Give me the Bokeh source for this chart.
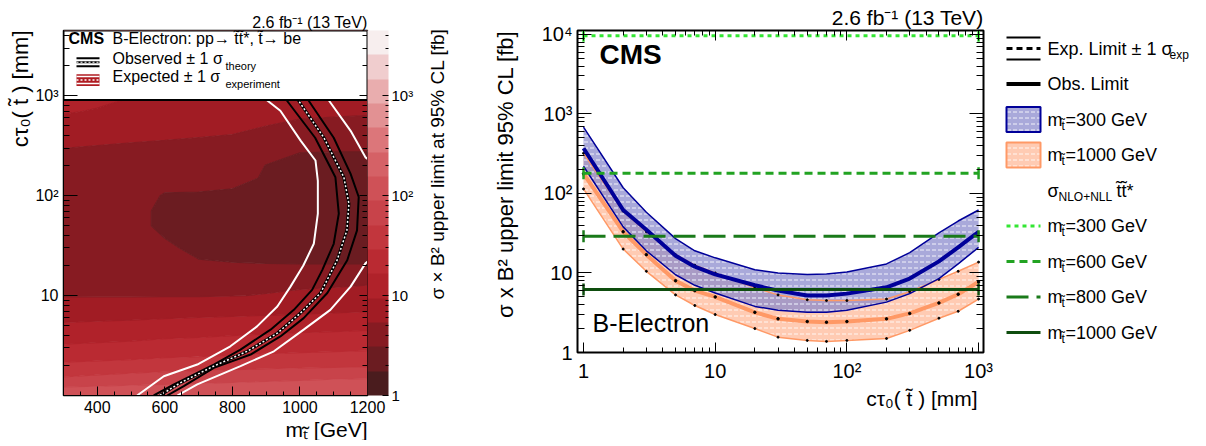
import math
import numpy as np
from bokeh.plotting import figure
from bokeh.layouts import row
from bokeh.models import (Range1d, FixedTicker, CustomJSTickFormatter, LogAxis, Label, Title,
                          ColorBar, LogColorMapper)
from bokeh.core.properties import value
from bokeh.embed import file_html
from bokeh.resources import INLINE

FONT = "Liberation Sans"

# ---------------- left panel: 95% CL limit map (fb) ----------------
mass_grid = [300, 400, 500, 600, 700, 800, 900, 1000, 1100, 1200]
ctau_grid = [1, 1.2, 1.5, 2, 3, 5, 7, 10, 15, 20, 30, 50, 70, 100, 150, 200, 300, 500, 700, 1000, 2000, 5000]
limit_m300 = [130, 91, 52, 31, 17.5, 10, 7, 5.2, 4.6, 4.3, 4.0, 3.8, 3.8, 3.9, 4.2, 4.6, 5.4, 7.5, 10, 15, 35, 120]
limit_m400 = [132, 94, 56, 32, 18, 10.3, 7.1, 5.2, 4.5, 4.1, 3.8, 3.6, 3.6, 3.7, 4.0, 4.4, 5.2, 7.3, 9.0, 11.5, 30, 110]
limit_m500 = [135, 97, 60, 33, 18.5, 10.6, 7.2, 5.2, 4.4, 3.9, 3.6, 3.4, 3.4, 3.5, 3.8, 4.2, 5.0, 7.0, 8.2, 9.6, 25, 100]
limit_m600 = [138, 100, 64, 35, 19.5, 11, 7.4, 5.2, 4.3, 3.6, 3.2, 2.85, 2.85, 3.0, 3.5, 3.9, 4.8, 6.8, 7.6, 9.0, 22, 90]
limit_m700 = [140, 103, 68, 36, 20, 11.4, 7.6, 5.2, 4.2, 3.15, 2.9, 2.8, 2.8, 3.0, 3.4, 3.8, 4.6, 6.5, 7.2, 8.6, 20, 80]
limit_m800 = [142, 106, 72, 38, 21, 11.8, 7.8, 5.3, 4.2, 3.12, 2.8, 2.7, 2.7, 2.95, 3.3, 3.6, 4.4, 6.2, 7.0, 8.4, 19, 70]
limit_m900 = [145, 109, 76, 40, 22, 12.2, 8.1, 5.5, 4.3, 3.1, 2.8, 2.6, 2.6, 2.8, 3.0, 3.05, 3.6, 5.4, 6.6, 8.2, 18, 60]
limit_m1000 = [147, 112, 80, 42, 23, 12.6, 8.4, 5.8, 4.4, 3.1, 2.7, 2.5, 2.5, 2.6, 2.8, 2.9, 3.15, 4.8, 6.2, 8.0, 18, 55]
limit_m1100 = [150, 115, 84, 44, 24, 13, 8.8, 6.0, 4.5, 3.1, 2.7, 2.4, 2.3, 2.4, 2.5, 2.7, 3.2, 4.6, 6.0, 8.0, 18, 55]
limit_m1200 = [150, 115, 86, 45, 25, 13.5, 9.2, 6.3, 4.6, 3.1, 2.7, 2.4, 2.3, 2.3, 2.4, 2.7, 3.2, 4.5, 5.8, 8.0, 18, 55]

level_bounds = [1, 1.75, 3.07, 5.38, 9.43, 16.5, 28.9, 50.7, 88.8, 156, 273, 478, 837, 1466, 2569, 4500]
band_colors = ["#4a1c1e", "#6b1c21", "#871b22", "#a11c24", "#b0222a", "#ba2a32", "#c2363d",
               "#c8434a", "#cf5157", "#d56166", "#dc767a", "#e29193", "#e9adae", "#f0cdce", "#f7eeee"]

# exclusion contours (mass [GeV], ctau [mm])
exp_minus_m = [518, 597, 696, 794, 873, 933, 972, 1010, 1041, 1053, 1053, 1046, 1002, 942, 893, 840]
exp_minus_ct = [1.0, 1.56, 2.04, 3.11, 4.92, 7.77, 12.3, 20, 33, 66, 141, 225, 356, 707, 955, 1300]
exp_plus_low_m = [637, 696, 824, 923, 1011, 1090, 1150, 1194, 1215]
exp_plus_low_ct = [1.0, 1.29, 1.97, 2.77, 4.56, 7.2, 12.3, 21, 24]
exp_plus_high_m = [1215, 1194, 1150, 1080, 1030]
exp_plus_high_ct = [215, 242, 446, 955, 1300]
obs_minus_m = [567, 627, 745, 824, 913, 982, 1036, 1066, 1100, 1115, 1105, 1045, 955, 910]
obs_minus_ct = [1.0, 1.29, 2.04, 2.88, 4.56, 7.2, 11.4, 18, 33, 66, 153, 380, 955, 1300]
obs_m = [585, 646, 745, 844, 933, 1002, 1061, 1110, 1139, 1145, 1130, 1071, 990, 945]
obs_ct = [1.0, 1.34, 1.97, 2.77, 4.2, 6.7, 10.6, 22.6, 45, 83, 153, 380, 955, 1300]
obs_plus_m = [607, 656, 745, 854, 942, 1011, 1081, 1140, 1169, 1174, 1150, 1100, 1020, 975]
obs_plus_ct = [1.0, 1.24, 1.89, 2.57, 3.9, 5.95, 10.6, 22.6, 45, 97, 165, 380, 955, 1300]

# ---------------- right panel: limits vs ctau ----------------
ctau_pts = [1, 2, 3, 5, 7, 10, 20, 30, 50, 70, 100, 200, 300, 500, 700, 1000]
m300_up = [682, 118, 58, 27, 19, 15.5, 11, 10, 9.6, 9.7, 10.3, 13, 18, 32, 45, 62]
m300_obs = [370, 62, 35, 16.5, 12, 9.6, 7, 6, 5.2, 5.2, 5.5, 6.6, 8.5, 14, 21, 33]
m300_lo = [220, 38, 19, 9.5, 7, 5.6, 3.8, 3.4, 3.2, 3.2, 3.4, 4.3, 5.5, 8.5, 13, 21]
m1000_up = [320, 60, 33, 17, 12.5, 10, 6.5, 5.3, 4.6, 4.5, 4.5, 4.7, 5.8, 8.3, 10.5, 13.7]
m1000_obs = [177, 33, 17, 8, 6, 5.0, 3.2, 2.65, 2.45, 2.4, 2.45, 2.65, 3.1, 4.2, 5.4, 7.7]
m1000_lo = [114, 20, 10.5, 5.3, 3.9, 3.0, 2.0, 1.56, 1.42, 1.38, 1.42, 1.5, 1.9, 2.7, 3.3, 4.7]
xsec_mass = [300, 600, 800, 1000]
xsec_fb = [9600, 180, 29, 6.2]
xsec_ctau_span = [1, 1000]
xsec_colors = ["#33e633", "#22a322", "#1a7a1a", "#0e4d0e"]
xsec_dash = ["4 4", "8 5", "22 8", "solid"]

H = 440

sup_code = """
const e = Math.round(Math.log10(tick));
if (e === 0) return HIDE1 ? "" : "1";
if (e === 1) return "10";
const s = {"0":"\u2070","1":"\u00b9","2":"\u00b2","3":"\u00b3","4":"\u2074","5":"\u2075"};
return "10" + String(e).split("").map(c => s[c]).join("");
"""
def sup_fmt(hide1=False):
    return CustomJSTickFormatter(code=sup_code.replace("HIDE1", "true" if hide1 else "false"))

def blank_fmt():
    return CustomJSTickFormatter(code='return "";')

def style_axis(ax, major_in, minor_in, size, standoff):
    ax.major_tick_in = major_in
    ax.major_tick_out = 0
    ax.minor_tick_in = minor_in
    ax.minor_tick_out = 0
    ax.major_tick_line_color = "black"
    ax.minor_tick_line_color = "black"
    ax.axis_line_color = "black"
    ax.major_label_text_font = FONT
    ax.major_label_text_font_size = size
    ax.major_label_text_color = "black"
    ax.major_label_standoff = standoff

def no_align(p):
    try:
        p.frame_align = False
    except Exception:
        pass

log_minor = [k * 10 ** d for d in range(0, 5) for k in range(2, 10)]

def label(p, x, y, text, size, **kw):
    p.add_layout(Label(x=x, y=y, text=text, text_font=FONT, text_font_size=size,
                       text_color="black", **kw))

def title(p, text, size, side, standoff=0, align="right"):
    p.add_layout(Title(text=text, align=align, text_font=FONT, text_font_size=size,
                       text_font_style="normal", text_color="black", standoff=standoff), side)

# ================= panel A (map + colour scale) =================
A_YMAX = 4500
A_W = 417
pA = figure(width=A_W, height=H, x_range=Range1d(300, 1200), y_range=Range1d(1, A_YMAX),
            y_axis_type="log", output_backend="svg", toolbar_location=None,
            min_border_left=63, min_border_right=A_W - 367, min_border_top=30,
            min_border_bottom=H - 398)
no_align(pA)
pA.grid.visible = False
pA.outline_line_color = "black"
pA.outline_line_width = 1.5
pA.xaxis.ticker = FixedTicker(ticks=[400, 600, 800, 1000, 1200], minor_ticks=list(range(300, 1201, 50)))
style_axis(pA.xaxis[0], 9, 4, "16px", 5)
pA.yaxis.ticker = FixedTicker(ticks=[1, 10, 100, 1000], minor_ticks=log_minor)
pA.yaxis.formatter = sup_fmt(hide1=True)
style_axis(pA.yaxis[0], 14, 6, "16px", 5)
ra = LogAxis(ticker=FixedTicker(ticks=[1, 10, 100, 1000], minor_ticks=log_minor), formatter=blank_fmt())
style_axis(ra, 8, 5, "0px", 0)
pA.add_layout(ra, "right")

Z = np.array([limit_m300, limit_m400, limit_m500, limit_m600, limit_m700,
              limit_m800, limit_m900, limit_m1000, limit_m1100, limit_m1200]).T
pA.contour(x=mass_grid, y=ctau_grid, z=Z, levels=level_bounds, fill_color=band_colors,
           line_color=[band_colors[0]] + band_colors, line_width=1.2)

pA.line(exp_minus_m, exp_minus_ct, line_color="white", line_width=2)
pA.line(exp_plus_low_m, exp_plus_low_ct, line_color="white", line_width=2)
pA.line(exp_plus_high_m, exp_plus_high_ct, line_color="white", line_width=2)
pA.line(obs_minus_m, obs_minus_ct, line_color="black", line_width=2)
pA.line(obs_plus_m, obs_plus_ct, line_color="black", line_width=2)
pA.line(obs_m, obs_ct, line_color="black", line_width=3)
pA.line(obs_m, obs_ct, line_color="white", line_width=1.5, line_dash="2 2")

def ax_A(sx):
    return 300 + (sx - 63) * 900 / 304

def ay_A(sy):
    return 10 ** ((398 - sy) / 368 * math.log10(A_YMAX))

# legend box
pA.quad(left=300, right=1200, bottom=ay_A(100), top=A_YMAX, fill_color="white",
        line_color="black", line_width=2)
x0, x1 = ax_A(76), ax_A(99)
pA.line([x0, x1], [ay_A(58)] * 2, line_color="black", line_width=2)
pA.line([x0, x1], [ay_A(62)] * 2, line_color="black", line_width=2)
pA.line([x0, x1], [ay_A(62)] * 2, line_color="white", line_width=1.2, line_dash="2 2")
pA.line([x0, x1], [ay_A(66)] * 2, line_color="black", line_width=2)
pA.quad(left=x0, right=x1, top=ay_A(74), bottom=ay_A(86), fill_color="#b01c22", line_color=None)
pA.line([x0, x1], [ay_A(76.5)] * 2, line_color="white", line_width=1.5)
pA.line([x0, x1], [ay_A(80)] * 2, line_color="white", line_width=1.5, line_dash="2 2")
pA.line([x0, x1], [ay_A(83.5)] * 2, line_color="white", line_width=1.5)

label(pA, ax_A(68), ay_A(47), "CMS", "16px", text_font_style="bold")
label(pA, ax_A(112), ay_A(47), "B-Electron: pp\u2192 t\u0303t\u0303*, t\u0303\u2192 be", "16px")
label(pA, ax_A(112), ay_A(67), "Observed \u00b1 1 \u03c3", "16px")
label(pA, ax_A(225), ay_A(72), "theory", "11px")
label(pA, ax_A(112), ay_A(85), "Expected \u00b1 1 \u03c3", "16px")
label(pA, ax_A(225), ay_A(90), "experiment", "11px")
title(pA, "2.6 fb\u207b\u00b9 (13 TeV)", "16px", "above", standoff=0)
title(pA, "m\u209c\u0303 [GeV]", "21px", "below", standoff=0)
title(pA, "c\u03c4\u2080( t\u0303 ) [mm]", "22px", "left", standoff=0)

cmap = LogColorMapper(palette=band_colors, low=level_bounds[0], high=level_bounds[-1])
cbar = ColorBar(color_mapper=cmap, location="top_left", orientation="vertical",
                width=21, margin=0, padding=0,
                ticker=FixedTicker(ticks=[1, 10, 100, 1000], minor_ticks=log_minor),
                formatter=sup_fmt(),
                major_tick_in=6, major_tick_out=0, minor_tick_in=3, minor_tick_out=0,
                major_tick_line_color="black", minor_tick_line_color="black",
                bar_line_color=None, border_line_color=None, background_fill_alpha=0,
                label_standoff=3, major_label_text_font=FONT,
                major_label_text_font_size="15px", major_label_text_color="black")
pA.add_layout(cbar, "right")

# ================= panel E (rotated axis titles) =================
EX0 = A_W
pE = figure(width=530 - EX0, height=H, x_range=Range1d(0, 530 - EX0), y_range=Range1d(H, 0),
            x_axis_location=None, y_axis_location=None, output_backend="svg",
            toolbar_location=None, min_border=0)
no_align(pE)
pE.grid.visible = False
pE.outline_line_color = None
label(pE, 437 - EX0, 28, "\u03c3 \u00d7 B\u00b2 upper limit at 95% CL [fb]", "19px",
      angle=math.pi / 2, text_align="right", text_baseline="middle")
label(pE, 505 - EX0, 30, "\u03c3 x B\u00b2 upper limit 95% CL [fb]", "22px",
      angle=math.pi / 2, text_align="right", text_baseline="middle")

# ================= panel C =================
CX0, CX1, CY1 = 0.9, 1090, 11200
pC = figure(width=465, height=H, x_axis_type="log", y_axis_type="log",
            x_range=Range1d(CX0, CX1), y_range=Range1d(1, CY1),
            output_backend="svg", toolbar_location=None,
            min_border_left=47, min_border_right=12, min_border_top=30, min_border_bottom=H - 352)
no_align(pC)
pC.grid.visible = False
pC.outline_line_color = "black"
pC.outline_line_width = 2
dec_ticks = [1, 10, 100, 1000, 10000]
pC.xaxis.ticker = FixedTicker(ticks=dec_ticks, minor_ticks=log_minor)
pC.xaxis.formatter = sup_fmt()
style_axis(pC.xaxis[0], 10, 5, "20px", 7)
pC.yaxis.ticker = FixedTicker(ticks=dec_ticks, minor_ticks=log_minor)
pC.yaxis.formatter = sup_fmt()
style_axis(pC.yaxis[0], 14, 7, "20px", 5)
ta = LogAxis(ticker=FixedTicker(ticks=dec_ticks, minor_ticks=log_minor), formatter=blank_fmt())
style_axis(ta, 10, 5, "0px", 0)
pC.add_layout(ta, "above")
rc = LogAxis(ticker=FixedTicker(ticks=dec_ticks, minor_ticks=log_minor), formatter=blank_fmt())
style_axis(rc, 14, 7, "0px", 0)
pC.add_layout(rc, "right")

BLUE, NAVY, ORANGE, PEACH = "#8888cc", "#000099", "#ff9966", "#ffa880"
band_kw = dict(hatch_pattern="horizontal_dash", hatch_color="white", hatch_alpha=0.85,
               hatch_scale=6, hatch_weight=1)
pC.varea(x=ctau_pts, y1=m1000_lo, y2=m1000_up, fill_color=PEACH, fill_alpha=0.6, **band_kw)
pC.varea(x=ctau_pts, y1=m300_lo, y2=m300_up, fill_color=BLUE, fill_alpha=0.72, **band_kw)
for ys in (m1000_up, m1000_lo):
    pC.line(ctau_pts, ys, line_color=ORANGE, line_width=1.5)
    pC.scatter(ctau_pts, ys, size=2, color="black")
pC.line(ctau_pts, m1000_obs, line_color=ORANGE, line_width=4)
pC.scatter(ctau_pts, m1000_obs, size=2.5, color="black")
for ys in (m300_up, m300_lo):
    pC.line(ctau_pts, ys, line_color=NAVY, line_width=1.5)
pC.line(ctau_pts, m300_obs, line_color=NAVY, line_width=4)
for xs_val, col, dash in zip(xsec_fb, xsec_colors, xsec_dash):
    pC.line(xsec_ctau_span, [xs_val, xs_val], line_color=col, line_width=3, line_dash=dash)
    pC.scatter(xsec_ctau_span, [xs_val, xs_val], marker="dash", angle=math.pi / 2, size=12,
               line_color=col, line_width=2.5)

def cx(sx):
    return 10 ** (math.log10(CX0) + (sx - 577) / 406 * (math.log10(CX1) - math.log10(CX0)))

def cy(sy):
    return 10 ** ((352 - sy) / 322 * math.log10(CY1))

label(pC, cx(599), cy(69), "CMS", "28px", text_font_style="bold")
label(pC, cx(592), cy(336), "B-Electron", "25px")
title(pC, "2.6 fb\u207b\u00b9 (13 TeV)", "21px", "above", standoff=4)
title(pC, "c\u03c4\u2080( t\u0303 )  [mm]", "21px", "below", standoff=0)

# ================= panel D (legend) =================
DW = 205
pD = figure(width=DW, height=H, x_range=Range1d(0, DW), y_range=Range1d(H, 0),
            x_axis_location=None, y_axis_location=None, output_backend="svg",
            toolbar_location=None, min_border=0)
no_align(pD)
pD.grid.visible = False
pD.outline_line_color = None
rows = [48 + 35.5 * i for i in range(9)]
ix0, ix1, tx = 11, 45, 52
pD.segment([ix0, ix0], [rows[0] - 11, rows[0] + 11], [ix1, ix1], [rows[0] - 11, rows[0] + 11],
           line_color="black", line_width=2)
pD.segment([ix0], [rows[0]], [ix1], [rows[0]], line_color="black", line_width=3, line_dash="6 4")
pD.segment([ix0], [rows[1]], [ix1], [rows[1]], line_color="black", line_width=4)
pD.rect([28], [rows[2]], width=34, height=25, fill_color=BLUE, fill_alpha=0.72,
        line_color=NAVY, line_width=2, **band_kw)
pD.rect([28], [rows[3]], width=34, height=25, fill_color=PEACH, fill_alpha=0.6,
        line_color=ORANGE, line_width=2, **band_kw)
for r, col, dash in zip(rows[5:], xsec_colors, xsec_dash):
    pD.segment([ix0], [r], [ix1], [r], line_color=col, line_width=3, line_dash=dash)

tkw = dict(text_font=value(FONT), text_color="black", text_baseline="middle")
pD.text([tx, tx, tx], [rows[0], rows[1], rows[4]],
        ["Exp. Limit \u00b1 1 \u03c3", "Obs. Limit", "\u03c3"], text_font_size="18px", **tkw)
pD.text([174], [rows[0] + 6], ["exp"], text_font_size="12px", **tkw)
pD.text([63], [rows[4] + 6], ["NLO+NLL"], text_font_size="12px", **tkw)
pD.text([121], [rows[4]], ["t\u0303t\u0303*"], text_font_size="18px", **tkw)
m_rows = [rows[2], rows[3], rows[5], rows[6], rows[7], rows[8]]
m_txt = ["=300 GeV", "=1000 GeV", "=300 GeV", "=600 GeV", "=800 GeV", "=1000 GeV"]
pD.text([tx] * 6, m_rows, ["m"] * 6, text_font_size="18px", **tkw)
pD.text([66] * 6, [r + 6 for r in m_rows], ["t\u0303"] * 6, text_font_size="12px", **tkw)
pD.text([70] * 6, m_rows, m_txt, text_font_size="18px", **tkw)

layout = row(pA, pE, pC, pD)
open("out.html", "w").write(file_html(layout, INLINE))
